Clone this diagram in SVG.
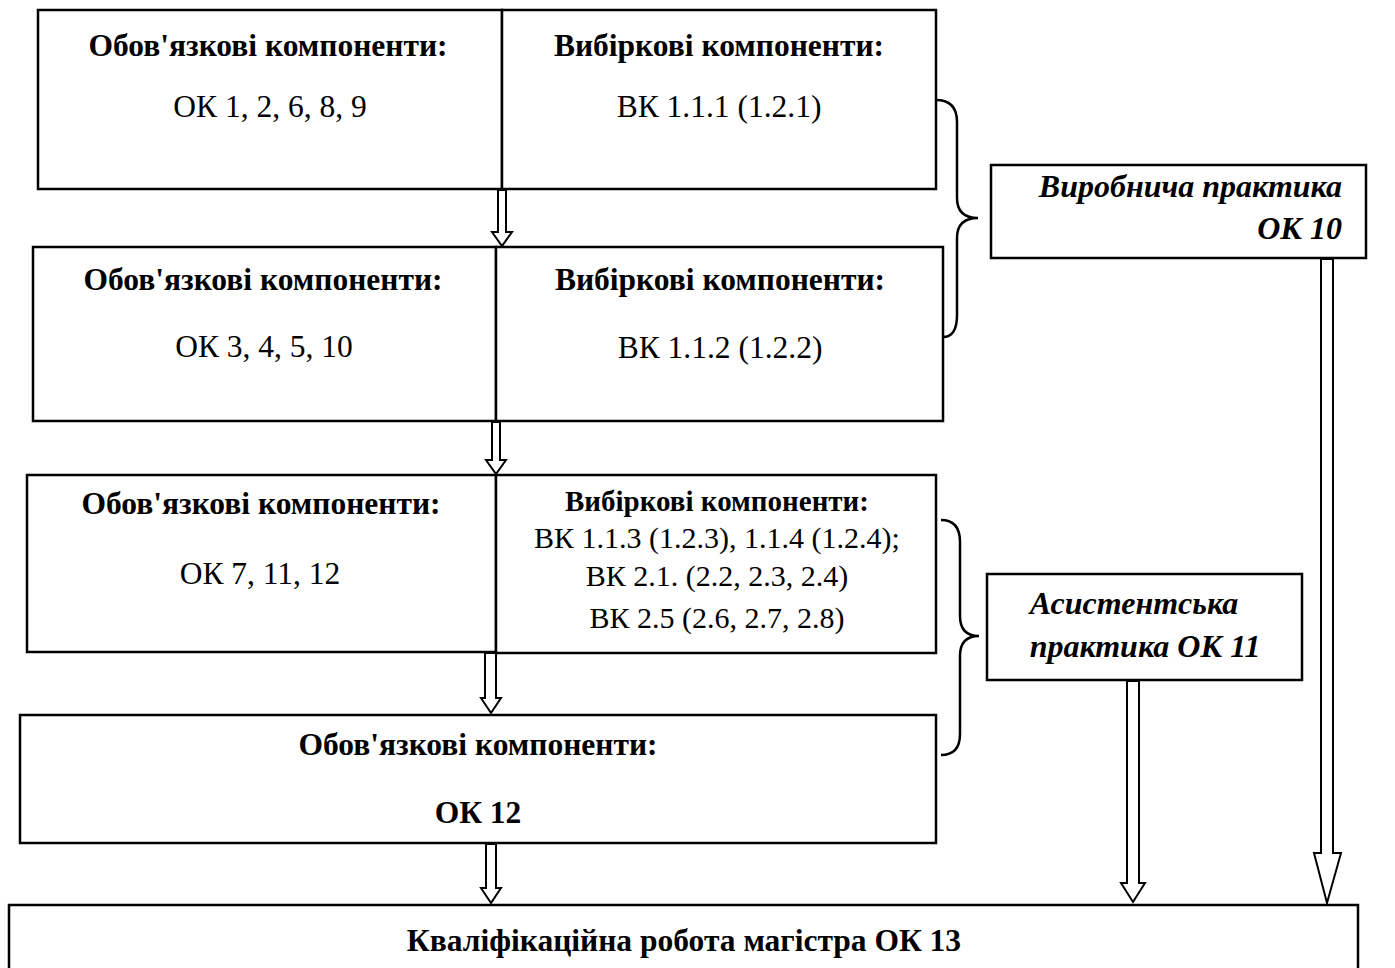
<svg xmlns="http://www.w3.org/2000/svg" width="1395" height="968" viewBox="0 0 1395 968">
<style>
.box{fill:#fff;stroke:#000;stroke-width:2.5}
.arr{fill:#fff;stroke:#000;stroke-width:2}
.br{fill:none;stroke:#000;stroke-width:2.5}
text{font-family:"Liberation Serif","Times New Roman",serif;fill:#000;text-anchor:middle}
.b{font-weight:bold;font-size:31.5px}
.n{font-size:31.5px}
.s{font-size:30px}
.sb{font-weight:bold;font-size:29px}
.bi{font-weight:bold;font-style:italic;font-size:32px}
</style>
<rect width="1395" height="968" fill="#fff"/>
<g id="connectors">
<path class="arr" d="M498,190 V232 H492 L502,246 L512,232 H506 V190 Z"/>
<path class="arr" d="M492,422 V460 H486 L496,474 L506,460 H500 V422 Z"/>
<path class="arr" d="M485,653 V698 H481 L491,713 L501,698 H496 V653 Z"/>
<path class="arr" d="M486,844 V888 H481 L491,903 L501,888 H496 V844 Z"/>
<path class="arr" d="M1127,681 V883 H1121 L1133,902 L1145,883 H1139 V681 Z"/>
<path class="arr" d="M1321,259 V853 H1314 L1327,903 L1341,853 H1333 V259 Z"/>
<path class="br" d="M936,100 Q957,100 957,122 V198 Q957,218 978,218 Q957,218 957,238 V315 Q957,337 943,337"/>
<path class="br" d="M941,520 Q960,520 960,542 V616 Q960,636 979,636 Q960,636 960,656 V734 Q960,755 941,755"/>
</g>
<g id="box1">
<rect class="box" x="38" y="10" width="464" height="179"/>
<rect class="box" x="502" y="10" width="434" height="179"/>
<text class="b" x="268" y="56">Обов'язкові компоненти:</text>
<text class="n" x="270" y="117">ОК 1, 2, 6, 8, 9</text>
<text class="b" x="719" y="56">Вибіркові компоненти:</text>
<text class="n" x="719" y="117">ВК 1.1.1 (1.2.1)</text>
</g>
<g id="box2">
<rect class="box" x="33" y="247" width="463" height="174"/>
<rect class="box" x="496" y="247" width="447" height="174"/>
<text class="b" x="263" y="290">Обов'язкові компоненти:</text>
<text class="n" x="264" y="357">ОК 3, 4, 5, 10</text>
<text class="b" x="720" y="290">Вибіркові компоненти:</text>
<text class="n" x="720" y="358">ВК 1.1.2 (1.2.2)</text>
</g>
<g id="box3">
<rect class="box" x="27" y="475" width="469" height="177"/>
<rect class="box" x="496" y="475" width="440" height="178"/>
<text class="b" x="261" y="514">Обов'язкові компоненти:</text>
<text class="n" x="260" y="584">ОК 7, 11, 12</text>
<text class="sb" x="717" y="511">Вибіркові компоненти:</text>
<text class="s" x="717" y="548">ВК 1.1.3 (1.2.3), 1.1.4 (1.2.4);</text>
<text class="s" x="717" y="586">ВК 2.1. (2.2, 2.3, 2.4)</text>
<text class="s" x="717" y="628">ВК 2.5 (2.6, 2.7, 2.8)</text>
</g>
<g id="box4">
<rect class="box" x="20" y="715" width="916" height="128"/>
<text class="b" x="478" y="755">Обов'язкові компоненти:</text>
<text class="b" x="478" y="823">ОК 12</text>
</g>
<g id="practice1">
<rect class="box" x="991" y="165" width="375" height="93"/>
<text class="bi" x="1342" y="197" style="text-anchor:end">Виробнича практика</text>
<text class="bi" x="1342" y="239" style="text-anchor:end">ОК 10</text>
</g>
<g id="practice2">
<rect class="box" x="987" y="574" width="315" height="106"/>
<text class="bi" x="1134" y="614">Асистентська</text>
<text class="bi" x="1145" y="657">практика ОК 11</text>
</g>
<g id="final">
<rect class="box" x="9" y="905" width="1349" height="80"/>
<text class="b" x="684" y="951">Кваліфікаційна робота магістра ОК 13</text>
</g>
</svg>
